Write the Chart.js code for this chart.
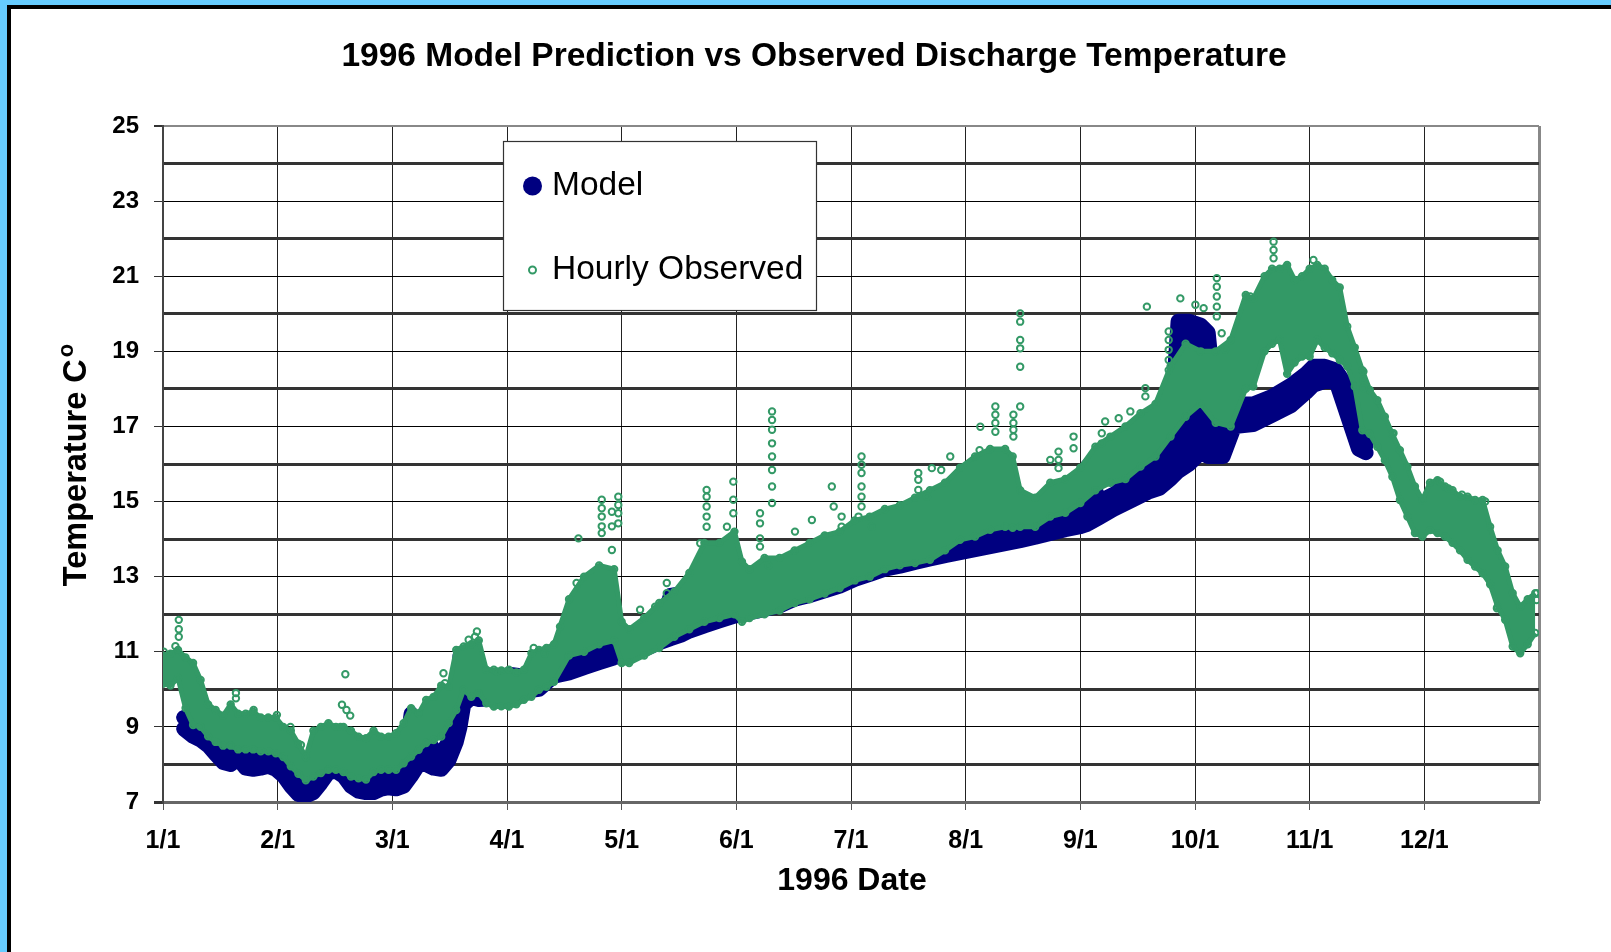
<!DOCTYPE html>
<html lang="en">
<head>
<meta charset="UTF-8">
<title>1996 Model Prediction vs Observed Discharge Temperature</title>
<script src="https://cdn.jsdelivr.net/npm/chart.js@4.4.1/dist/chart.umd.min.js"></script>
<style>
    html, body { margin: 0; padding: 0; background: #fff; }
    #wrap { width: 1611px; height: 952px; }
</style>
</head>
<body>
<div id="wrap"><canvas id="tempChart" width="1611" height="952"></canvas></div>
<script>
// x values are day of year 1996 (0 = Jan 1)
const monthLabels = ['1/1', '2/1', '3/1', '4/1', '5/1', '6/1', '7/1', '8/1', '9/1', '10/1', '11/1', '12/1'];

// Model: lower / upper edge of the model band
const modelDays = [5.5, 8, 10, 12, 14, 16, 18, 20, 22, 24, 26, 28, 30, 32, 34, 36, 38, 40, 42, 44, 46, 48, 50, 52, 54, 56, 58, 60, 62, 64,
    66, 68, 70, 72, 74, 76, 78, 79, 80, 82, 84, 88, 92, 96, 100, 104, 108, 112, 116, 120, 124, 128, 132, 135, 138, 140, 144, 148, 152, 156,
    158, 160, 164, 168, 172, 176, 180, 184, 188, 192, 196, 200, 204, 208, 212, 216, 220, 224, 228, 232, 236, 240, 244, 246, 249, 253, 258, 262, 265, 268,
    270, 273, 276, 278, 280, 282, 285, 290, 295, 300, 304, 306, 309, 312, 314, 316, 318, 320];
const modelLow = [8.95, 8.75, 8.65, 8.5, 8.27, 8.05, 8.0, 8.15, 7.9, 7.87, 7.9, 7.95, 7.87, 7.7, 7.42, 7.2, 7.16, 7.25, 7.5, 7.78, 7.82, 7.69, 7.42, 7.29, 7.25, 7.25, 7.34, 7.38, 7.35, 7.42,
    7.69, 8.0, 8.0, 7.9, 7.87, 8.1, 8.6, 9.0, 9.6, 9.78, 9.73, 9.75, 9.8, 9.95, 10.0, 10.35, 10.44, 10.58, 10.71, 10.84, 10.93, 11.06, 11.24, 11.35, 11.45, 11.55, 11.69, 11.82, 11.95, 12.04,
    12.08, 12.13, 12.22, 12.4, 12.5, 12.62, 12.75, 12.93, 13.06, 13.2, 13.28, 13.38, 13.47, 13.56, 13.64, 13.72, 13.8, 13.88, 13.96, 14.05, 14.15, 14.25, 14.33, 14.4, 14.57, 14.8, 15.05, 15.25, 15.35, 15.6,
    15.8, 16.0, 16.3, 16.2, 16.2, 16.2, 17.0, 17.05, 17.3, 17.55, 17.9, 18.1, 18.2, 18.2, 17.6, 17.0, 16.4, 16.3];
const modelHigh = [9.25, 9.1, 9.0, 8.85, 8.7, 8.6, 8.5, 8.5, 8.4, 8.35, 8.35, 8.35, 8.3, 8.1, 7.9, 7.7, 7.6, 7.7, 7.9, 8.0, 8.0, 7.95, 7.85, 7.8, 7.8, 7.8, 7.8, 7.8, 7.8, 7.9,
    9.35, 9.0, 8.7, 8.4, 8.3, 8.6, 9.3, 10.9, 10.9, 10.3, 10.1, 10.1, 10.4, 10.35, 10.45, 10.7, 10.8, 10.9, 11.0, 11.15, 11.25, 11.4, 11.6, 12.5, 12.55, 11.9, 12.0, 12.15, 12.3, 12.4,
    13.1, 12.6, 12.55, 12.7, 12.8, 12.95, 13.05, 13.2, 13.35, 13.5, 13.6, 13.7, 13.8, 13.9, 14.0, 14.05, 14.1, 14.2, 14.3, 14.4, 14.5, 14.6, 14.7, 15.95, 15.0, 15.2, 15.6, 17.0, 16.3, 16.8,
    19.8, 19.8, 19.7, 19.5, 17.5, 17.2, 17.6, 17.6, 17.8, 18.1, 18.4, 18.6, 18.6, 18.5, 18.2, 17.6, 17.0, 16.5];

// Hourly observed: lower / upper edge of the main band
const obsDays = [0, 2, 4, 6, 8, 10, 12, 14, 16, 18, 20, 22, 24, 26, 28, 30, 32, 34, 36, 38, 40, 42, 44, 46, 48, 50, 52, 54, 56, 58,
    60, 62, 64, 66, 68, 70, 72, 74, 76, 78, 80, 82, 84, 86, 88, 90, 92, 94, 96, 98, 100, 102, 104, 108, 112, 116, 120, 122, 124, 128,
    132, 136, 140, 144, 148, 152, 154, 156, 160, 164, 168, 172, 176, 180, 184, 188, 192, 196, 200, 204, 208, 212, 216, 220, 224, 226, 228, 232, 236, 240,
    244, 248, 252, 256, 260, 264, 268, 272, 276, 280, 284, 288, 290, 293, 295, 297, 299, 301, 303, 305, 307, 309, 311, 313, 315, 317, 319, 321, 323, 325,
    327, 329, 331, 333, 335, 337, 339, 341, 343, 345, 347, 349, 351, 353, 355, 357, 359, 361, 363, 365];
const obsLow = [10.15, 10.1, 10.3, 9.5, 9.05, 9.0, 8.75, 8.6, 8.5, 8.5, 8.4, 8.4, 8.4, 8.35, 8.35, 8.3, 8.2, 7.95, 7.75, 7.58, 7.68, 7.77, 7.86, 7.86, 7.8, 7.68, 7.63, 7.6, 7.8, 7.86,
    7.86, 7.86, 8.03, 8.21, 8.39, 8.57, 8.65, 8.74, 9.1, 9.45, 9.99, 9.8, 9.9, 9.63, 9.54, 9.55, 9.54, 9.6, 9.72, 9.8, 9.99, 10.07, 10.2, 10.9, 11.0, 11.2, 11.3, 10.7, 10.7, 10.9,
    11.1, 11.4, 11.6, 11.8, 11.9, 12.0, 11.8, 11.9, 12.0, 12.1, 12.3, 12.4, 12.55, 12.7, 12.9, 13.0, 13.2, 13.3, 13.36, 13.45, 13.7, 13.98, 14.07, 14.25, 14.33, 14.3, 14.33, 14.33, 14.6, 14.7,
    14.96, 15.3, 15.5, 15.6, 15.93, 16.2, 16.73, 17.26, 17.6, 17.1, 17.0, 18.0, 18.06, 19.0, 19.2, 19.3, 18.4, 18.7, 18.86, 18.86, 19.3, 19.1, 18.95, 18.77, 18.6, 18.06, 16.9, 16.8, 16.46, 16.1,
    15.66, 15.04, 14.6, 14.16, 14.07, 14.24, 14.16, 14.07, 13.9, 13.7, 13.45, 13.27, 13.09, 12.8, 12.2, 11.85, 11.14, 10.96, 11.2, 11.5];
const obsHigh = [10.9, 10.95, 11.05, 10.85, 10.7, 10.25, 9.6, 9.45, 9.3, 9.6, 9.35, 9.35, 9.4, 9.25, 9.25, 9.25, 9.0, 8.9, 8.55, 8.2, 8.9, 9.0, 9.1, 9.0, 9.0, 8.9, 8.74, 8.7, 8.9, 8.74,
    8.74, 8.83, 9.1, 9.5, 9.36, 9.72, 9.8, 10.1, 10.07, 11.05, 11.14, 11.2, 11.3, 10.52, 10.52, 10.5, 10.52, 10.45, 10.52, 10.96, 11.05, 11.1, 11.2, 12.4, 13.0, 13.3, 13.2, 11.8, 11.6, 11.9,
    12.3, 12.6, 13.1, 13.9, 13.9, 14.2, 13.4, 13.2, 13.5, 13.5, 13.7, 13.9, 14.1, 14.2, 14.5, 14.6, 14.8, 14.9, 15.1, 15.3, 15.5, 15.9, 16.2, 16.4, 16.4, 16.2, 15.3, 15.1, 15.5, 15.6,
    15.9, 16.46, 16.73, 17.0, 17.35, 17.6, 18.6, 19.2, 19.0, 19.0, 19.3, 20.5, 20.4, 21.0, 21.2, 21.2, 21.3, 20.9, 21.0, 21.2, 21.3, 21.2, 20.9, 20.7, 19.66, 19.1, 18.5, 17.97, 17.7, 17.26,
    16.8, 16.37, 15.93, 15.4, 15.04, 15.5, 15.57, 15.4, 15.3, 15.13, 15.13, 15.04, 15.04, 14.33, 13.7, 13.27, 12.56, 12.2, 12.4, 12.56];

// Hourly observed: isolated readings outside the band
const spikeDays = [0.2, 3.3, 4.2, 4.2, 4.2, 19.4, 19.4, 24.1, 30.3, 33.9, 36.7, 47.2, 47.6, 48.5, 48.8, 49.8, 74.6, 75.0, 81.3, 83.0, 83.5, 88.8, 98.6, 101.5,
    105.6, 110.0, 110.5, 116.7, 116.7, 116.7, 116.7, 116.7, 119.4, 119.4, 119.4, 121.1, 121.1, 121.1, 121.1, 126.9, 130.9, 134.0, 134.0, 142.9,
    144.6, 144.6, 144.6, 144.6, 144.6, 150.0, 151.7, 151.7, 151.7, 158.8, 158.8, 158.8, 158.8, 161.0, 162.0, 162.0, 162.0, 162.0, 162.0, 162.0, 162.0, 162.0,
    168.1, 172.6, 177.9, 178.4, 180.5, 180.5, 185.8, 185.8, 185.8, 185.8, 185.8, 185.8, 185.0, 188.5, 200.9, 200.9, 200.9, 204.5, 203.2,
    207.0, 209.4, 217.2, 217.4, 221.4, 221.4, 221.4, 221.4, 226.2, 226.2, 226.2, 226.2, 228.0, 228.0, 228.0, 228.0, 228.0, 228.0,
    236.0, 238.2, 238.2, 238.2, 242.2, 242.2, 249.7, 249.7, 250.6, 254.2, 257.3, 261.3, 261.3, 261.7, 267.5, 267.5, 267.5, 267.5, 267.5,
    270.6, 274.6, 276.8, 280.3, 280.3, 280.3, 280.3, 280.3, 281.6, 282.5, 289.2, 295.4, 295.4, 295.4, 306.0, 319.3, 319.3, 319.3,
    327.3, 339.7, 341.9, 345.5, 351.7, 354.8, 365.4, 365.4];
const spikeTemps = [11.0, 11.15, 11.85, 11.6, 11.4, 9.9, 9.76, 9.45, 9.32, 9.0, 8.52, 9.0, 9.59, 10.4, 9.45, 9.3, 10.43, 10.16, 11.32, 11.4, 11.54, 10.47, 11.1, 10.95,
    11.67, 12.83, 14.02, 15.05, 14.82, 14.6, 14.34, 14.16, 14.73, 14.34, 13.71, 15.13, 14.91, 14.69, 14.42, 12.12, 12.2, 12.83, 12.56, 13.89,
    15.31, 15.13, 14.87, 14.6, 14.33, 14.33, 15.53, 15.05, 14.69, 14.69, 14.42, 14.02, 13.8, 13.3, 17.4, 17.17, 16.91, 16.55, 16.2, 15.84, 15.4, 14.96,
    14.2, 14.51, 15.4, 14.87, 14.6, 14.33, 16.2, 15.98, 15.76, 15.4, 15.13, 14.87, 14.6, 14.33, 15.76, 15.58, 15.31, 15.89, 15.13,
    15.84, 16.2, 16.37, 16.99, 17.53, 17.31, 17.09, 16.86, 17.31, 17.09, 16.91, 16.73, 20.01, 19.79, 19.3, 19.08, 18.59, 17.53,
    16.11, 16.33, 16.11, 15.89, 16.73, 16.42, 16.82, 16.55, 17.13, 17.22, 17.4, 18.02, 17.8, 20.19, 19.53, 19.3, 19.04, 18.77, 18.5,
    20.41, 20.24, 20.15, 20.95, 20.72, 20.46, 20.19, 19.93, 19.48, 19.04, 20.46, 21.92, 21.7, 21.48, 21.43, 18.46, 18.24, 18.02,
    16.82, 15.53, 15.35, 15.18, 15.0, 12.16, 12.56, 12.38];

const NAVY = '#000080';
const GREEN = '#339966';
const FONT = '"Liberation Sans", Arial, sans-serif';

function pairs(xs, ys) {
    return xs.map((x, i) => ({ x: x, y: ys[i] }));
}

// white page with the blue / black frame on the left and top
const framePlugin = {
    id: 'frame',
    beforeDraw(chart) {
        const ctx = chart.ctx;
        ctx.save();
        ctx.fillStyle = '#ffffff';
        ctx.fillRect(0, 0, chart.width, chart.height);
        ctx.fillStyle = '#66ccff';
        ctx.fillRect(0, 0, chart.width, 5);
        ctx.fillRect(0, 0, 7, chart.height);
        ctx.fillStyle = '#000000';
        ctx.fillRect(7, 5, chart.width - 7, 4);
        ctx.fillRect(7, 5, 4, chart.height - 5);
        ctx.restore();
    }
};

// title, axis titles and the boxed legend
const textPlugin = {
    id: 'texts',
    afterDraw(chart) {
        const ctx = chart.ctx;
        ctx.save();
        ctx.fillStyle = '#000';
        ctx.textBaseline = 'middle';

        ctx.font = 'bold 33.5px ' + FONT;
        ctx.textAlign = 'center';
        ctx.fillText('1996 Model Prediction vs Observed Discharge Temperature', 814, 57);

        ctx.font = 'bold 32px ' + FONT;
        ctx.fillText('1996 Date', 852, 881);

        // y title, with a raised "o" after the C
        ctx.translate(77, 465);
        ctx.rotate(-Math.PI / 2);
        ctx.font = 'bold 32.5px ' + FONT;
        const main = 'Temperature C';
        const w1 = ctx.measureText(main).width;
        ctx.font = 'bold 22px ' + FONT;
        const w2 = ctx.measureText('o').width;
        const x0 = -(w1 + w2 + 2) / 2;
        ctx.textAlign = 'left';
        ctx.font = 'bold 32.5px ' + FONT;
        ctx.fillText(main, x0, 0);
        ctx.font = 'bold 22px ' + FONT;
        ctx.fillText('o', x0 + w1 + 2, -10);
        ctx.restore();

        // legend box
        ctx.save();
        ctx.fillStyle = '#fff';
        ctx.fillRect(503.5, 141.5, 313, 169);
        ctx.strokeStyle = '#333';
        ctx.lineWidth = 1.2;
        ctx.strokeRect(503.5, 141.5, 313, 169);

        ctx.fillStyle = NAVY;
        ctx.beginPath();
        ctx.arc(532.5, 186, 9.5, 0, Math.PI * 2);
        ctx.fill();

        ctx.strokeStyle = GREEN;
        ctx.lineWidth = 2;
        ctx.beginPath();
        ctx.arc(532.5, 270, 3.5, 0, Math.PI * 2);
        ctx.stroke();

        ctx.fillStyle = '#000';
        ctx.font = '33.5px ' + FONT;
        ctx.textAlign = 'left';
        ctx.textBaseline = 'middle';
        ctx.fillText('Model', 552, 186);
        ctx.fillText('Hourly Observed', 552, 270);
        ctx.restore();
    }
};

const ctx = document.getElementById('tempChart').getContext('2d');
const chart = new Chart(ctx, {
    type: 'line',
    data: {
        datasets: [
            {
                label: 'Model low',
                data: pairs(modelDays, modelLow),
                borderColor: NAVY,
                backgroundColor: NAVY,
                borderWidth: 15,
                borderCapStyle: 'round',
                borderJoinStyle: 'round',
                pointRadius: 0,
                fill: false,
                order: 3
            },
            {
                label: 'Model',
                data: pairs(modelDays, modelHigh),
                borderColor: NAVY,
                backgroundColor: NAVY,
                borderWidth: 15,
                borderCapStyle: 'round',
                borderJoinStyle: 'round',
                pointRadius: 0,
                fill: '-1',
                order: 3
            },
            {
                label: 'Observed low',
                data: pairs(obsDays, obsLow),
                borderColor: GREEN,
                backgroundColor: GREEN,
                borderWidth: 5,
                borderJoinStyle: 'round',
                pointRadius: 3.2,
                pointBorderWidth: 2,
                pointBorderColor: GREEN,
                pointBackgroundColor: 'rgba(255,255,255,0)',
                fill: false,
                order: 2
            },
            {
                label: 'Hourly Observed',
                data: pairs(obsDays, obsHigh),
                borderColor: GREEN,
                backgroundColor: GREEN,
                borderWidth: 5,
                borderJoinStyle: 'round',
                pointRadius: 3.2,
                pointBorderWidth: 2,
                pointBorderColor: GREEN,
                pointBackgroundColor: 'rgba(255,255,255,0)',
                fill: '-1',
                order: 2
            },
            {
                label: 'Observed spikes',
                data: pairs(spikeDays, spikeTemps),
                showLine: false,
                pointRadius: 3.2,
                pointBorderWidth: 2,
                pointBorderColor: GREEN,
                pointBackgroundColor: 'rgba(255,255,255,0)',
                order: 1
            }
        ]
    },
    options: {
        responsive: false,
        animation: false,
        events: [],
        layout: { padding: { top: 126, right: 72, bottom: 0, left: 13 } },
        plugins: {
            legend: { display: false },
            title: { display: false },
            tooltip: { enabled: false }
        },
        scales: {
            x: {
                type: 'linear',
                min: 0,
                max: 366,
                afterFit(scale) { scale.height = 150; },
                border: { color: '#666', width: 3 },
                grid: {
                    color: c => (c.index === 12 ? '#888' : '#222'),
                    lineWidth: c => (c.index === 12 ? 3 : 1),
                    tickColor: c => (c.index === 12 ? 'rgba(0,0,0,0)' : '#555'),
                    tickLength: 8
                },
                ticks: {
                    stepSize: 30.5,
                    autoSkip: false,
                    maxRotation: 0,
                    padding: 16,
                    color: '#000',
                    font: { family: FONT, size: 25, weight: 'bold' },
                    callback: (v, i) => monthLabels[i] || ''
                }
            },
            y: {
                min: 7,
                max: 25,
                afterFit(scale) { scale.width = 150; },
                border: { color: '#444', width: 2 },
                grid: {
                    color: c => {
                        const v = c.tick.value;
                        if (v === 25) return '#888';
                        if (v === 7) return '#666';
                        return v % 2 === 0 ? '#333' : '#000';
                    },
                    lineWidth: c => {
                        const v = c.tick.value;
                        if (v === 25) return 2;
                        if (v === 7) return 3;
                        return v % 2 === 0 ? 3 : 1;
                    },
                    tickColor: c => (c.tick.value % 2 === 1 ? '#333' : 'rgba(0,0,0,0)'),
                    tickLength: 9
                },
                ticks: {
                    stepSize: 1,
                    autoSkip: false,
                    padding: 15,
                    color: '#000',
                    font: { family: FONT, size: 24, weight: 'bold' },
                    callback: v => (v % 2 === 1 ? String(v) : '')
                }
            }
        }
    },
    plugins: [framePlugin, textPlugin]
});
</script>
</body>
</html>
